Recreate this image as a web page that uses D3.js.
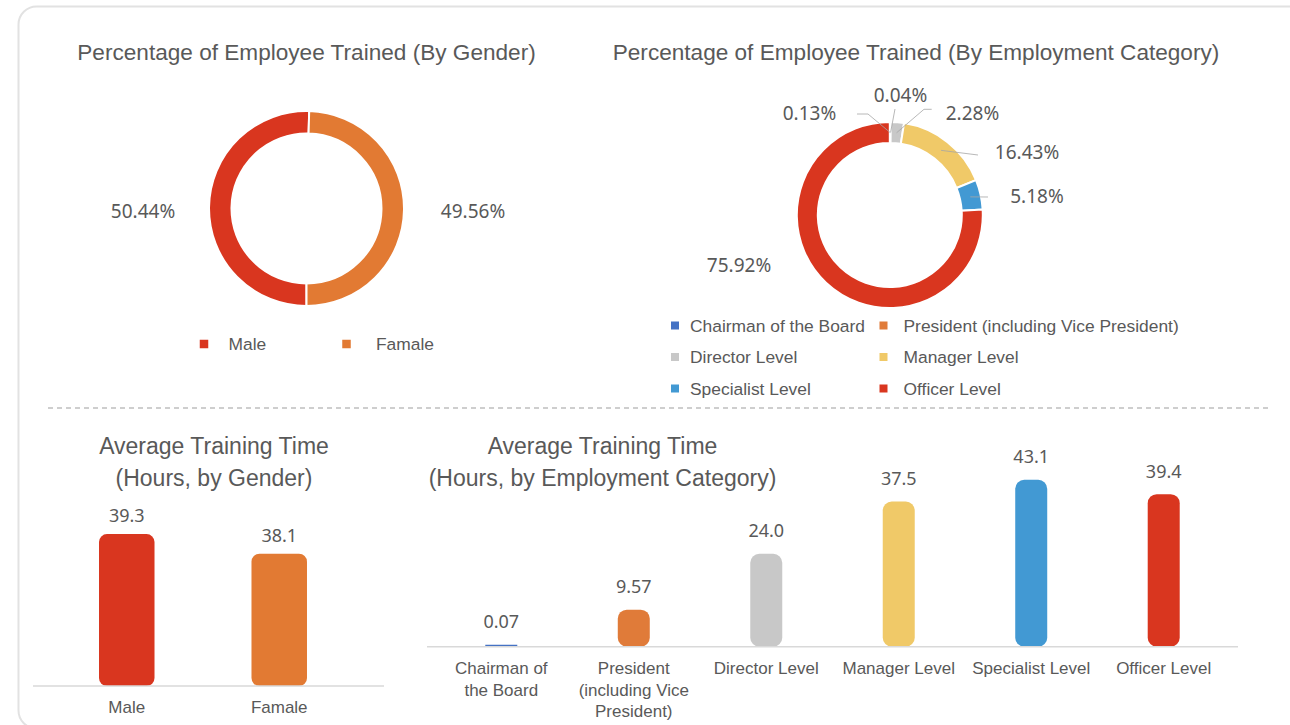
<!DOCTYPE html>
<html>
<head>
<meta charset="utf-8">
<script src="https://cdn.jsdelivr.net/npm/d3@7"></script>
<style>
  html, body { margin: 0; padding: 0; background: #ffffff; }
  svg { display: block; }
  .title { font-family: "Liberation Sans", Arial, sans-serif; fill: #595959; }
  .lbl { font-family: "Liberation Sans", Arial, sans-serif; fill: #595959; }
  .num { font-family: "Noto Sans", "Open Sans", sans-serif; fill: #595959; }
</style>
</head>
<body>
<svg id="chart" width="1290" height="725"></svg>
<script>
// ---- data ----
const genderLabels = ["Male", "Famale"];
const genderShare = [50.44, 49.56];          // % of employees trained
const genderHours = [39.3, 38.1];            // average training hours

const categoryLabels = ["Chairman of the Board", "President (including Vice President)",
  "Director Level", "Manager Level", "Specialist Level", "Officer Level"];
const categoryShare = [0.13, 0.04, 2.28, 16.43, 5.18, 75.92];
const categoryHours = [0.07, 9.57, 24.0, 37.5, 43.1, 39.4];
const categoryAxisLabels = [["Chairman of", "the Board"], ["President", "(including Vice", "President)"],
  ["Director Level"], ["Manager Level"], ["Specialist Level"], ["Officer Level"]];

// ---- styling ----
const genderColors = ["#d9361f", "#e27a33"];
const categoryColors = ["#4472c4", "#e07b39", "#c8c8c8", "#f0c968", "#4299d3", "#d9361f"];

const svg = d3.select("#chart");

// card frame
svg.append("rect")
  .attr("x", 18.5).attr("y", 6.5)
  .attr("width", 1300).attr("height", 722)
  .attr("rx", 18)
  .attr("fill", "#fff")
  .attr("stroke", "#e2e2e2").attr("stroke-width", 2);

// separator between rows
svg.append("line")
  .attr("x1", 48).attr("x2", 1270).attr("y1", 408).attr("y2", 408)
  .attr("stroke", "#bfbfbf").attr("stroke-width", 1.3)
  .attr("stroke-dasharray", "5,4");

function title(lines, cx, y0, size, gap) {
  lines.forEach((t, i) => {
    svg.append("text").attr("class", "title")
      .attr("x", cx).attr("y", y0 + i * gap)
      .attr("text-anchor", "middle")
      .attr("font-size", size)
      .text(t);
  });
}

// ================= Donut: by gender =================
title(["Percentage of Employee Trained (By Gender)"], 306.5, 60, 22.6, 0);
{
  const cx = 306.5, cy = 208.5;
  const pie = d3.pie().sort(null).value(d => d)
    .startAngle(Math.PI).endAngle(3 * Math.PI);
  const arc = d3.arc().innerRadius(75).outerRadius(97.5);
  const g = svg.append("g").attr("transform", `translate(${cx},${cy})`);
  const arcs = pie(genderShare);
  g.selectAll("path").data(arcs).join("path")
    .attr("d", arc)
    .attr("fill", (d, i) => genderColors[i])
    .attr("stroke", "#fff").attr("stroke-width", 2);

  const labelPos = [[-163.5, 2.5], [166.5, 2.5]];
  g.selectAll("text").data(arcs).join("text")
    .attr("class", "num")
    .attr("x", (d, i) => labelPos[i][0])
    .attr("y", (d, i) => labelPos[i][1] + 7)
    .attr("text-anchor", "middle")
    .attr("font-size", 19)
    .text(d => d3.format(".2f")(d.data) + "%");

  // legend
  const legX = [204, 346.5], textX = [228.5, 376], legY = 344;
  genderLabels.forEach((name, i) => {
    svg.append("rect")
      .attr("x", legX[i] - 4.25).attr("y", legY - 4.25)
      .attr("width", 8.5).attr("height", 8.5)
      .attr("fill", genderColors[i]);
    svg.append("text").attr("class", "lbl")
      .attr("x", textX[i]).attr("y", legY + 6)
      .attr("font-size", 17.4)
      .text(name);
  });
}

// ================= Donut: by employment category =================
title(["Percentage of Employee Trained (By Employment Category)"], 916, 60, 22.6, 0);
{
  const cx = 889.8, cy = 215;
  const pie = d3.pie().sort(null).value(d => d);
  const arc = d3.arc().innerRadius(72).outerRadius(93);
  const g = svg.append("g").attr("transform", `translate(${cx},${cy})`);
  const arcs = pie(categoryShare);
  g.selectAll("path").data(arcs).join("path")
    .attr("d", arc)
    .attr("fill", (d, i) => categoryColors[i])
    .attr("stroke", "#fff").attr("stroke-width", 2);

  // label centres and leader-line routes, relative to the donut centre
  const labelPos = [[-80.3, -102], [10.7, -120], [82.7, -102], [137.2, -63.5], [147.2, -19], [-150.8, 49.5]];
  const leaderRoute = [
    [[-21.8, -101], [-32.8, -101]],
    [[5.2, -106]],
    [[34.2, -105.7], [41.9, -105.7]],
    [[88.2, -60]],
    [[98.2, -18]],
    null
  ];
  const line = d3.line();
  arcs.forEach((d, i) => {
    if (!leaderRoute[i]) return;
    const c = arc.centroid(d);
    g.append("path")
      .attr("d", line([c, ...leaderRoute[i]]))
      .attr("fill", "none")
      .attr("stroke", "#a6a6a6").attr("stroke-width", 0.8);
  });
  g.selectAll("text").data(arcs).join("text")
    .attr("class", "num")
    .attr("x", (d, i) => labelPos[i][0])
    .attr("y", (d, i) => labelPos[i][1] + 7)
    .attr("text-anchor", "middle")
    .attr("font-size", 19)
    .text(d => d3.format(".2f")(d.data) + "%");

  // legend, two columns
  const colX = [675, 883.5], colText = [690, 903.5], rowY = [325.5, 357, 388.5];
  categoryLabels.forEach((name, i) => {
    const x = colX[i % 2], y = rowY[Math.floor(i / 2)];
    svg.append("rect")
      .attr("x", x - 4).attr("y", y - 4)
      .attr("width", 8).attr("height", 8)
      .attr("fill", categoryColors[i]);
    svg.append("text").attr("class", "lbl")
      .attr("x", colText[i % 2]).attr("y", y + 6)
      .attr("font-size", 17.4)
      .text(name);
  });
}

// ================= Bars: hours by gender =================
title(["Average Training Time", "(Hours, by Gender)"], 214, 454, 23, 32);
{
  const baseY = 686;
  const x = d3.scaleBand().domain(genderLabels).range([27.5, 378.5])
    .paddingInner(0.636).paddingOuter(0.469);
  const y = d3.scaleLinear().domain([30, 40]).range([baseY, baseY - 163.4]);

  svg.append("g").selectAll("rect").data(genderHours).join("rect")
    .attr("x", (d, i) => x(genderLabels[i]))
    .attr("y", d => y(d))
    .attr("width", x.bandwidth())
    .attr("height", d => baseY - y(d))
    .attr("rx", 8)
    .attr("fill", (d, i) => genderColors[i]);

  svg.append("line")
    .attr("x1", 33).attr("x2", 384).attr("y1", baseY).attr("y2", baseY)
    .attr("stroke", "#d9d9d9").attr("stroke-width", 1.5);

  svg.append("g").selectAll("text").data(genderHours).join("text")
    .attr("class", "num")
    .attr("x", (d, i) => x(genderLabels[i]) + x.bandwidth() / 2)
    .attr("y", d => y(d) - 12)
    .attr("text-anchor", "middle")
    .attr("font-size", 18)
    .text(d => d3.format(".1f")(d));

  svg.append("g").selectAll("text").data(genderLabels).join("text")
    .attr("class", "lbl")
    .attr("x", d => x(d) + x.bandwidth() / 2)
    .attr("y", 713)
    .attr("text-anchor", "middle")
    .attr("font-size", 17)
    .text(d => d);
}

// ================= Bars: hours by employment category =================
title(["Average Training Time", "(Hours, by Employment Category)"], 602.5, 454, 23, 32);
{
  const baseY = 646.7;
  const x = d3.scaleBand().domain(categoryLabels).range([427, 1238])
    .paddingInner(0.7585).paddingOuter(0.44);
  const y = d3.scaleLinear().domain([0, 45]).range([baseY, baseY - 174.2]);

  svg.append("g").selectAll("rect").data(categoryHours).join("rect")
    .attr("x", (d, i) => x(categoryLabels[i]))
    .attr("y", d => Math.min(y(d), baseY - 2))
    .attr("width", x.bandwidth())
    .attr("height", d => Math.max(baseY - y(d), 2))
    .attr("rx", d => Math.min(9, (baseY - y(d)) / 2))
    .attr("fill", (d, i) => categoryColors[i]);

  svg.append("line")
    .attr("x1", 427).attr("x2", 1238).attr("y1", baseY).attr("y2", baseY)
    .attr("stroke", "#d9d9d9").attr("stroke-width", 1.5);

  svg.append("g").selectAll("text").data(categoryHours).join("text")
    .attr("class", "num")
    .attr("x", (d, i) => x(categoryLabels[i]) + x.bandwidth() / 2)
    .attr("y", d => Math.min(y(d), baseY - 2) - 16.5)
    .attr("text-anchor", "middle")
    .attr("font-size", 18)
    .text(d => d3.format(d < 1 ? ".2f" : ".3r")(d));

  categoryAxisLabels.forEach((lines, i) => {
    const t = svg.append("text").attr("class", "lbl")
      .attr("x", x(categoryLabels[i]) + x.bandwidth() / 2)
      .attr("y", 674)
      .attr("text-anchor", "middle")
      .attr("font-size", 17);
    lines.forEach((s, j) => {
      t.append("tspan")
        .attr("x", x(categoryLabels[i]) + x.bandwidth() / 2)
        .attr("dy", j === 0 ? 0 : 21.5)
        .text(s);
    });
  });
}
</script>
</body>
</html>
